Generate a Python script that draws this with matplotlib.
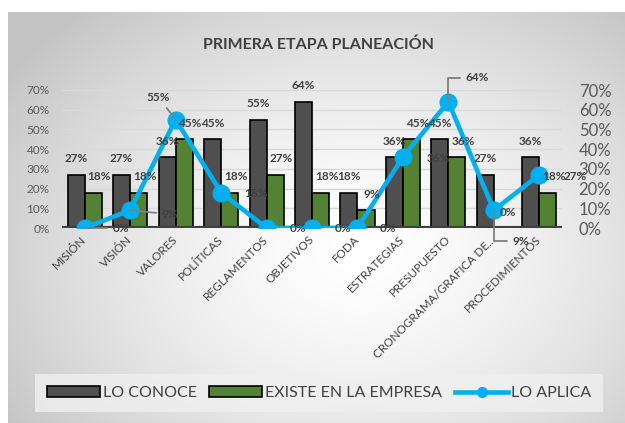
import numpy as np
import matplotlib
matplotlib.use("Agg")
import matplotlib.pyplot as plt
from matplotlib.patches import Patch
from matplotlib.lines import Line2D

categories = ["MISIÓN", "VISIÓN", "VALORES", "POLÍTICAS", "REGLAMENTOS", "OBJETIVOS",
              "FODA", "ESTRATEGIAS", "PRESUPUESTO", "CRONOGRAMA/GRAFICA DE...", "PROCEDIMIENTOS"]
lo_conoce = [27, 27, 36, 45, 55, 64, 18, 36, 45, 27, 36]
existe = [18, 18, 45, 18, 27, 18, 9, 45, 36, 0, 18]
lo_aplica = [0, 9, 55, 18, 0, 0, 0, 36, 64, 9, 27]
y_ticks = [0, 10, 20, 30, 40, 50, 60, 70]
title = "PRIMERA ETAPA PLANEACIÓN"
series_names = ["LO CONOCE", "EXISTE EN LA EMPRESA", "LO APLICA"]

plt.rcParams['font.family'] = ['Lato', 'DejaVu Sans']

W, H = 625, 423
fig = plt.figure(figsize=(W / 100, H / 100), dpi=100)
fig.patch.set_facecolor("white")

# gradient background
bg = fig.add_axes([8 / W, 0, 1 - 8 / W, 1 - 12 / H])
bg.set_axis_off()
ny, nx = 411, 617
yy, xx = np.mgrid[0:ny, 0:nx]
d = np.sqrt(((xx - 350) / 420.0) ** 2 + ((yy - 240) / 320.0) ** 2)
t = np.clip(d, 0, 1) ** 1.5
val = 1.0 * (1 - t) + 0.77 * t
img = np.dstack([val, val, val])
bg.imshow(img, aspect='auto', extent=[0, 1, 0, 1], origin='upper')
bg.set_xlim(0, 1); bg.set_ylim(0, 1)

x0, x1 = 62, 562
y0, y70 = 228, 90
ax = fig.add_axes([x0 / W, 1 - y0 / H, (x1 - x0) / W, (y0 - y70) / H])
ax.set_facecolor('none')
x = np.arange(len(categories))
ax.set_xlim(-0.5, len(categories) - 0.5)
ax.set_ylim(0, 70)

txtc = "#404040"
ax.set_yticks(y_ticks)
ax.set_yticklabels([f"{v}%" for v in y_ticks], fontsize=8.5, color="#595959")
ax.tick_params(axis='y', length=0, pad=9)
ax.grid(axis='y', color="#d9d9d9", lw=1)
ax.set_axisbelow(True)
for s in ax.spines.values():
    s.set_visible(False)
ax.axhline(0, color="#404040", lw=3, zorder=3, solid_capstyle='butt')

ax.set_xticks(x)
ax.set_xticklabels(categories, rotation=45, ha='right', va='center',
                   rotation_mode='anchor', fontsize=8.5, color=txtc)
ax.tick_params(axis='x', length=0, pad=7)
for tl in ax.get_xticklabels():
    tl.set_x(tl.get_position()[0])

bw = 0.375
ax.bar(x - bw / 2, lo_conoce, bw, color="#4f4f4f", edgecolor="black", lw=1.2, zorder=2)
ax.bar(x + bw / 2, existe, bw, color="#548235", edgecolor="black", lw=1.2, zorder=2)

ax2 = ax.twinx()
ax2.set_ylim(0, 70)
ax2.set_yticks(y_ticks)
ax2.set_yticklabels([f"{v}%" for v in y_ticks], fontsize=12, color="#595959")
ax2.tick_params(axis='y', length=0, pad=12)
for s in ax2.spines.values():
    s.set_visible(False)

ax2.plot(x, lo_aplica, color="#00b0f0", lw=3.3, marker='o', ms=12, zorder=4)

lab = dict(fontsize=8.5, fontweight='bold', color=txtc, ha='center', va='center', zorder=6)
for xi, v in zip(x - bw / 2, lo_conoce):
    ax2.annotate(f"{v}%", (xi, v), xytext=(0, 16), textcoords='offset pixels', **lab)
for xi, v in zip(x + bw / 2, existe):
    ax2.annotate(f"{v}%", (xi, v), xytext=(6, 16), textcoords='offset pixels', **lab)

offs = [(36, 0), (40, -4), (-17, 22), (35, -1), (31, 0), (31, 0), (31, 0),
        (35, -1), (29, 24), (27, -31), (36, -2)]
for i, (xi, v) in enumerate(zip(x, lo_aplica)):
    dx, dy = offs[i]
    kw = {}
    if i in (0, 1, 2):
        kw['arrowprops'] = dict(arrowstyle='-', color='#7f7f7f', lw=1.3, shrinkA=2, shrinkB=0)
    elif i in (8, 9):
        kw['arrowprops'] = dict(arrowstyle='-', color='#7f7f7f', lw=1.3, shrinkA=2, shrinkB=0,
                                connectionstyle="angle,angleA=0,angleB=90,rad=0")
    ax2.annotate(f"{v}%", (xi, v), xytext=(dx, dy), textcoords='offset pixels',
                 **lab, **kw)

fig.text(318 / W, 1 - 45 / H, title, ha='center', va='center', fontsize=11.5,
         fontweight='bold', color=txtc)

handles = [Patch(facecolor="#4f4f4f", edgecolor="black", lw=1.2),
           Patch(facecolor="#548235", edgecolor="black", lw=1.2),
           Line2D([0], [0], color="#00b0f0", lw=3.3, marker='o', ms=7)]
leg = fig.legend(handles, series_names, loc='center', bbox_to_anchor=(319 / W, 1 - 393 / H),
                 ncol=3, fontsize=11.5, frameon=True, fancybox=False, handlelength=3.3,
                 handleheight=0.75, handletextpad=0.2, columnspacing=0.8, borderpad=0.75,
                 labelcolor=txtc)
leg.get_frame().set_facecolor("#f0f0f0")
leg.get_frame().set_edgecolor("none")
leg.get_frame().set_alpha(0.8)

fig.savefig("out.png", dpi=100)
